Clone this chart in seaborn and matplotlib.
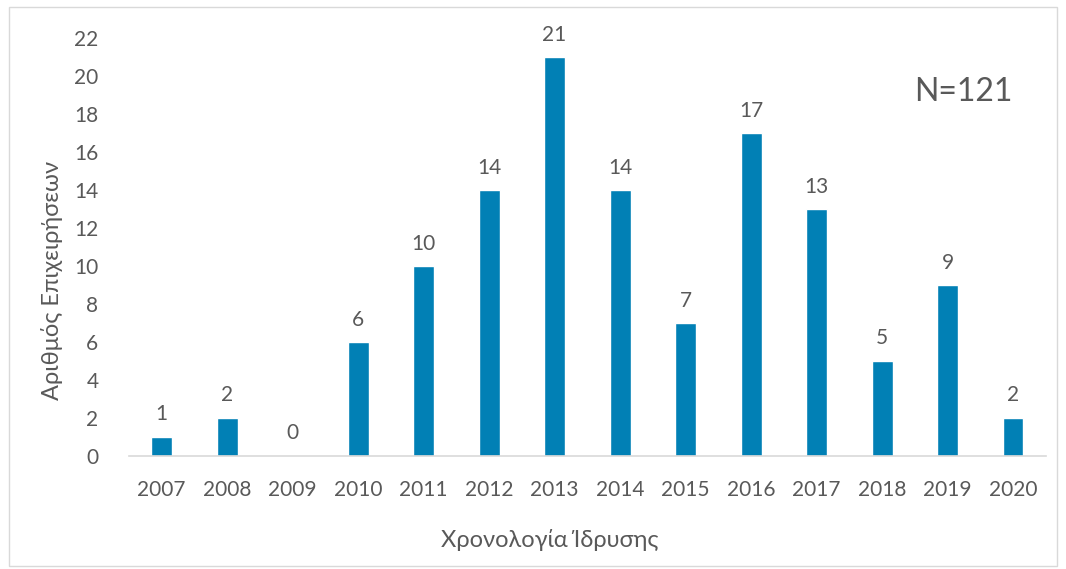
import matplotlib
matplotlib.use("Agg")
import matplotlib.pyplot as plt
import seaborn as sns
import pandas as pd
from matplotlib.patches import Rectangle

# data
years = ["2007", "2008", "2009", "2010", "2011", "2012", "2013",
         "2014", "2015", "2016", "2017", "2018", "2019", "2020"]
counts = [1, 2, 0, 6, 10, 14, 21, 14, 7, 17, 13, 5, 9, 2]
y_ticks = list(range(0, 23, 2))
x_label = "Χρονολογία Ίδρυσης"
y_label = "Αριθμός Επιχειρήσεων"
note = "N=121"

BAR = "#0180B5"
TXT = "#595959"

sns.set_theme(style="white")
plt.rcParams["font.family"] = ["Lato", "Noto Sans", "DejaVu Sans"]

df = pd.DataFrame({"year": years, "count": counts})

W, H = 1066, 569
fig = plt.figure(figsize=(W / 100, H / 100), dpi=100)
ax = fig.add_axes([0.121, 0.1986, 0.860, 0.7346])

sns.barplot(data=df, x="year", y="count", color=BAR, width=0.32,
            saturation=1, ax=ax)

ax.bar_label(ax.containers[0], labels=[str(c) for c in counts],
             padding=9, fontsize=15, color=TXT)

ax.set_ylim(0, 22)
ax.set_yticks(y_ticks)
ax.set_xlim(-0.5, len(years) - 0.5)
ax.tick_params(axis="both", labelsize=15, colors=TXT, length=0)
ax.tick_params(axis="x", pad=17)
ax.tick_params(axis="y", pad=22)

for s in ["top", "right", "left"]:
    ax.spines[s].set_visible(False)
ax.spines["bottom"].set_color("#D9D9D9")
ax.spines["bottom"].set_linewidth(1.2)

ax.set_xlabel("")
ax.set_ylabel("")
# axis titles sit off-centre in the original, so place them on the figure
fig.text(550 / W, 1 - 540 / H, x_label, fontsize=17, color=TXT,
         ha="center", va="center")
fig.text(52 / W, 1 - 280 / H, y_label, fontsize=17, color=TXT,
         ha="center", va="center", rotation=90)

ax.text(0.91, 0.87, note, transform=ax.transAxes, fontsize=23,
        color=TXT, ha="center", va="center")

# light frame around the whole chart
fig.patches.append(Rectangle((0.008, 0.005), 0.984, 0.982,
                             transform=fig.transFigure, fill=False,
                             edgecolor="#D9D9D9", linewidth=1))

fig.savefig("out.png", dpi=100)
